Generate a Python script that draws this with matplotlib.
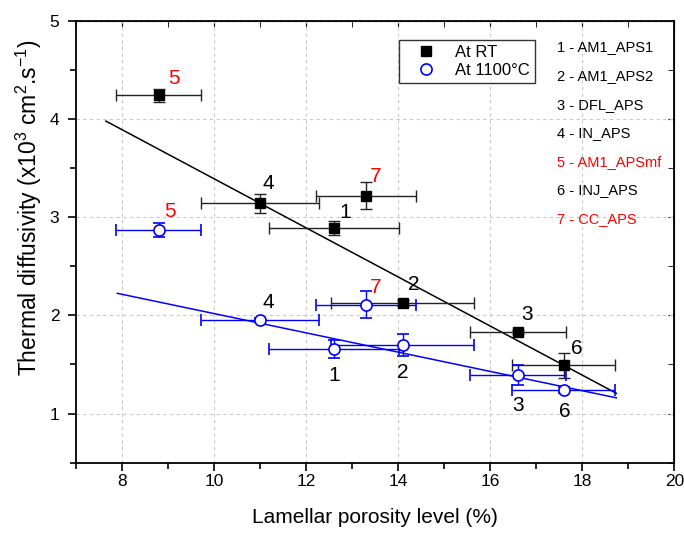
import numpy as np
import matplotlib
matplotlib.use("Agg")
import matplotlib.pyplot as plt
from matplotlib.lines import Line2D
from matplotlib.ticker import MultipleLocator

plt.rcParams["font.family"] = ["Liberation Sans", "DejaVu Sans"]
plt.rcParams["mathtext.fontset"] = "custom"
plt.rcParams["mathtext.rm"] = "Liberation Sans"
plt.rcParams["mathtext.it"] = "Liberation Sans:italic"
plt.rcParams["mathtext.default"] = "regular"

# ===== DATOS =====

ids = ["1", "2", "3", "4", "5", "6", "7"]
porosidad = [12.6, 14.1, 16.6, 11.0, 8.8, 17.6, 13.3]
porosidad_err = [1.41, 1.55, 1.05, 1.28, 0.92, 1.12, 1.08]

difus_rt = [2.89, 2.13, 1.83, 3.14, 4.24, 1.49, 3.22]
difus_rt_err = [0.07, 0.03, 0.02, 0.10, 0.07, 0.13, 0.135]

difus_1100 = [1.66, 1.70, 1.39, 1.95, 2.87, 1.24, 2.11]
difus_1100_err = [0.09, 0.115, 0.10, 0.02, 0.07, 0.03, 0.135]

nombres = ["AM1_APS1", "AM1_APS2", "DFL_APS", "IN_APS", "AM1_APSmf", "INJ_APS", "CC_APS"]
rojos = ["5", "7"]  # excluidos del ajuste

rango_rt = [7.65, 18.74]
rango_1100 = [7.9, 18.74]

# desplazamiento de etiquetas (pixeles)
off_rt = [(11, 15), (11, 18), (9, 18), (8, 20), (15, 17), (13, 17), (10, 19)]
off_1100 = [(0, -27), (0, -28), (0, -30), (8, 18), (11, 18), (1, -22), (10, 17)]

AZUL = "#0000ff"

# ===== GRAFICA =====

fig = plt.figure(figsize=(6.84, 5.33), dpi=100)
ax = fig.add_axes([0.111, 0.132, 0.875, 0.829])

ax.errorbar(porosidad, difus_rt, xerr=porosidad_err, yerr=difus_rt_err,
            fmt="s", color="black", ms=7.5, ecolor="#222222", elinewidth=1,
            capsize=4, capthick=1, zorder=4)
ax.errorbar(porosidad, difus_1100, xerr=porosidad_err, yerr=difus_1100_err,
            fmt="o", color=AZUL, mfc="white", mec=AZUL, mew=1.2, ms=8,
            ecolor=AZUL, elinewidth=1, capsize=4, capthick=1, zorder=4)

# ajuste lineal sin los puntos 5 y 7
usar = [i for i in range(len(ids)) if ids[i] not in rojos]
px = np.array(porosidad)[usar]

p_rt = np.polyfit(px, np.array(difus_rt)[usar], 1)
xs = np.array(rango_rt)
ax.plot(xs, np.polyval(p_rt, xs), color="black", lw=1.1, zorder=3)

p_1100 = np.polyfit(px, np.array(difus_1100)[usar], 1)
xs = np.array(rango_1100)
ax.plot(xs, np.polyval(p_1100, xs), color=AZUL, lw=1.1, zorder=3)

for i in range(len(ids)):
    col = "red" if ids[i] in rojos else "black"
    ax.annotate(ids[i], (porosidad[i], difus_rt[i]), xytext=off_rt[i],
                textcoords="offset pixels", ha="center", va="center",
                fontsize=15, color=col)
    ax.annotate(ids[i], (porosidad[i], difus_1100[i]), xytext=off_1100[i],
                textcoords="offset pixels", ha="center", va="center",
                fontsize=15, color=col)

# lista de muestras
for i in range(len(ids)):
    col = "red" if ids[i] in rojos else "black"
    ax.text(0.804, 0.94 - i * 0.0648, f"{ids[i]} - {nombres[i]}",
            transform=ax.transAxes, fontsize=10.5, color=col,
            ha="left", va="center")

manijas = [
    Line2D([], [], marker="s", ls="none", color="black", ms=7.5),
    Line2D([], [], marker="o", ls="none", mfc="white", mec=AZUL, mew=1.2, ms=8),
]
leg = ax.legend(manijas, ["At RT", "At 1100°C"], loc="upper left",
                bbox_to_anchor=(0.54, 0.957), fontsize=12, borderaxespad=0,
                frameon=True, fancybox=False, edgecolor="black",
                handlelength=2.6, handletextpad=0.45, borderpad=0.3,
                labelspacing=0.2)
leg.get_frame().set_linewidth(1.0)

ax.set_xlim(7, 20)
ax.set_ylim(0.5, 5)
ax.xaxis.set_major_locator(MultipleLocator(2))
ax.xaxis.set_minor_locator(MultipleLocator(1))
ax.yaxis.set_major_locator(MultipleLocator(1))
ax.yaxis.set_minor_locator(MultipleLocator(0.5))
ax.tick_params(which="major", direction="out", length=6, width=1.2, labelsize=12.5)
ax.tick_params(which="minor", direction="out", length=4, width=1.2)
ax.tick_params(axis="x", which="major", pad=2)
ax.tick_params(axis="y", which="major", pad=6)

sec_x = ax.secondary_xaxis("top")
sec_x.xaxis.set_major_locator(MultipleLocator(2))
sec_x.xaxis.set_minor_locator(MultipleLocator(1))
sec_x.tick_params(which="both", direction="in", length=4, labeltop=False)
sec_y = ax.secondary_yaxis("right")
sec_y.yaxis.set_major_locator(MultipleLocator(1))
sec_y.yaxis.set_minor_locator(MultipleLocator(0.5))
sec_y.tick_params(which="both", direction="in", length=4, labelright=False)

for s in ax.spines.values():
    s.set_linewidth(1.3)

ax.grid(True, which="major", color="#c8c8c8", linestyle=(0, (3, 3)), lw=0.8)
ax.set_axisbelow(True)

ax.set_xlabel("Lamellar porosity level (%)", fontsize=15, labelpad=14)
ax.set_ylabel("Thermal diffusivity (x10$^3$ cm$^2$.s$^{-1}$)", fontsize=16.5)
ax.yaxis.set_label_coords(-0.054, 0.576)

fig.savefig("out.png", dpi=100)
plt.close(fig)
